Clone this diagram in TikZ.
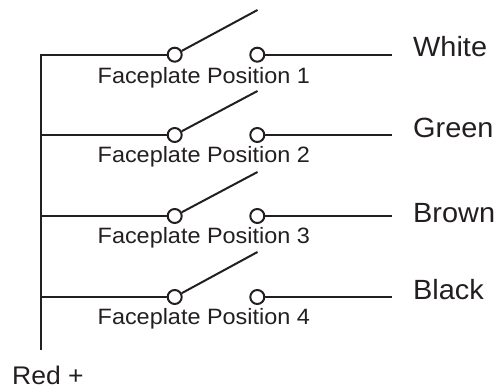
\documentclass[tikz,border=0pt]{standalone}
\usepackage{fontspec}
\setmainfont{Liberation Sans}
\newfontfamily\smallface[FakeStretch=1.055]{Liberation Sans}
\newfontfamily\bigface[FakeStretch=1.04]{Liberation Sans}
\definecolor{ink}{HTML}{231F20}
\tikzset{
  wire/.style={draw=ink,line width=2pt},
  term/.style={circle,draw=ink,fill=white,line width=2pt,minimum size=14pt,inner sep=0pt},
  smalllabel/.style={text=ink,font=\smallface\fontsize{22.2}{24}\selectfont,anchor=base west,inner sep=0pt},
  biglabel/.style={text=ink,font=\bigface\fontsize{27.8}{30}\selectfont,anchor=base west,inner sep=0pt},
  redlabel/.style={text=ink,font=\bigface\fontsize{25.5}{28}\selectfont,anchor=base west,inner sep=0pt}
}
\begin{document}
\begin{tikzpicture}[x=1pt,y=-1pt]
\useasboundingbox (0,0) rectangle (496,390);
\coordinate (top) at (40.9,53.7);
\coordinate (bot) at (40.9,350.5);
\draw[wire,line cap=butt] (top) -- (bot);
\foreach \n/\y/\t/\c/\ly/\cy in {1/54.7/10/White/84/56.5, 2/135/91/Green/162.2/137.2, 3/216/172/Brown/243.2/222.8, 4/297/252/Black/324.8/299.8}{
  \coordinate (j\n) at (40.9,\y);
  \node[term] (a\n) at (174.7,\y) {};
  \node[term] (b\n) at (257.3,\y) {};
  \coordinate (lever\n) at (257.5,\t);
  \coordinate (end\n) at (391.5,\y);
  \draw[wire] (j\n) -- (a\n);
  \draw[wire] (a\n) -- (lever\n);
  \draw[wire] (b\n) -- (end\n);
  \node[smalllabel] (p\n) at (97.5,\ly) {Faceplate Position \n};
  \node[biglabel] (w\n) at (413,\cy) {\c};
}
\node[redlabel] (red) at (12,384.8) {Red +};
\end{tikzpicture}
\end{document}
